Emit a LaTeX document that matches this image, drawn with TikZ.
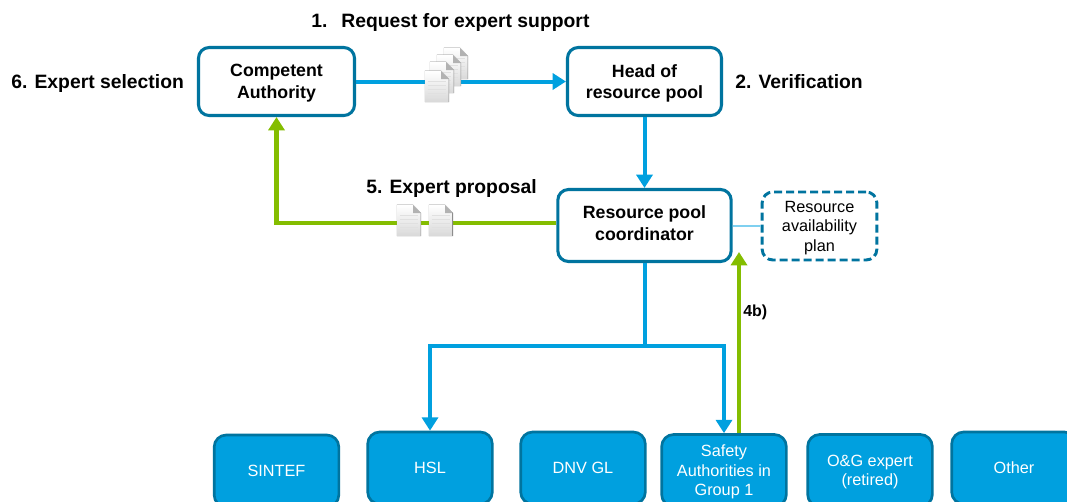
\documentclass[tikz,border=0pt]{standalone}
\usepackage{fontspec}
\setmainfont{Liberation Sans}
\usetikzlibrary{arrows.meta,calc,positioning}
\definecolor{poolblue}{HTML}{00A0DF}
\definecolor{edgeblue}{HTML}{00749F}
\definecolor{poolgreen}{HTML}{84BD00}
\definecolor{thinblue}{HTML}{7FD0F0}
\tikzset{
  rolebox/.style={draw=edgeblue, line width=2.3pt, fill=white, rounded corners=8pt, align=center, font=\bfseries\fontsize{13.3}{16.2}\selectfont, inner sep=0pt, text depth=0pt},
  planbox/.style={draw=edgeblue, line width=2.2pt, dash pattern=on 6pt off 3pt, rounded corners=8pt, align=center, font=\fontsize{12.2}{14.6}\selectfont, inner sep=0pt, minimum width=86pt, minimum height=51pt, text depth=0pt},
  groupbox/.style={draw=edgeblue, line width=2pt, fill=poolblue, text=white, rounded corners=9pt, align=center, font=\fontsize{12.2}{14.6}\selectfont, inner sep=0pt, minimum width=93.5pt, minimum height=54pt, text depth=0pt},
  steplabel/.style={font=\bfseries\fontsize{14.5}{17}\selectfont, inner sep=0pt},
  bluearrow/.style={draw=poolblue, line width=3pt, -{Triangle[length=10pt,width=12pt]}},
  greenarrow/.style={draw=poolgreen, line width=3.2pt, -{Triangle[length=10pt,width=12pt]}},
  docicon/.pic={
    \fill[black!45] (-0.1,-0.1) -- (-0.1,31.5) -- (16,31.5) -- (24.1,23) -- (24.1,-0.1) -- cycle;
    \shade[top color=white, bottom color=black!15] (0,0) -- (0,31) -- (16,31) -- (23.6,23) -- (23.6,0) -- cycle;
    \foreach \y in {5,9,13,17,21} {
      \draw[black!12, line width=0.3pt] (2.5,\y) -- (21,\y);
    }
    \fill[black!30] (16,31) -- (16,23) -- (23.6,23) -- cycle;
  }
}
\begin{document}
\begin{tikzpicture}[x=0.75pt, y=-0.75pt]
\clip (0,0) rectangle (1067,501);
\fill[white] (0,0) rectangle (1067,501);

% Upper boxes
\node[rolebox, minimum width=117pt, minimum height=51pt] (authority) at (276.5,81.5) {Competent\\Authority};
\node[rolebox, minimum width=115.5pt, minimum height=51pt] (head) at (644.5,81.5) {Head of\\resource pool};
\node[rolebox, minimum width=130pt, minimum height=54pt, text depth=3.8pt] (coordinator) at (644.5,225.5) {Resource pool\\coordinator};
\node[planbox] (plan) at (819.5,226) {Resource\\availability\\plan};

% Lower boxes
\node[groupbox] (sintef) at (276.5,471) {SINTEF};
\node[groupbox] (hsl) at (430,468) {HSL};
\node[groupbox] (dnv) at (583,468) {DNV GL};
\node[groupbox] (safety) at (724,470.5) {Safety\\Authorities in\\Group 1};
\node[groupbox] (expert) at (870,470.5) {O\&G expert\\(retired)};
\node[groupbox] (other) at (1014,468) {Other};

% Labels
\node[steplabel, anchor=west] (request) at (311,22.5) {1.\hspace{0.72em}Request for expert support};
\node[steplabel, anchor=west] (selection) at (11,83.5) {6. Expert selection};
\node[steplabel, anchor=west] (verification) at (735,82) {2. Verification};
\node[steplabel, anchor=west] (proposal) at (366,188.5) {5. Expert proposal};
\node[anchor=west, inner sep=0pt, font=\bfseries\fontsize{12}{14}\selectfont] (fourb) at (743,312) {4b)};

% Connectors
\coordinate (split) at (coordinator.south |- 0,346);
\coordinate (greentip) at (739,252);
\draw[bluearrow] (authority) -- (head);
\draw[bluearrow] (head) -- (coordinator);
\draw[draw=poolblue, line width=3pt] (coordinator.south) -- (split);
\draw[bluearrow] (split) -| (hsl.north);
\draw[bluearrow] (split) -| (safety.north);
\draw[greenarrow] (coordinator.west |- 0,223) -| (authority.south);
\draw[greenarrow] (safety.north -| greentip) -- (greentip);
\draw[draw=thinblue, line width=1.2pt] (coordinator.east |- plan.west) -- (plan.west);

% Documents
\foreach \x/\y in {444/79,437/86,430/93,425/102} {
  \pic at (\x,\y) [yscale=-1] {docicon};
}
\foreach \x in {397,429} {
  \pic at (\x,236) [yscale=-1] {docicon};
}
\end{tikzpicture}
\end{document}
